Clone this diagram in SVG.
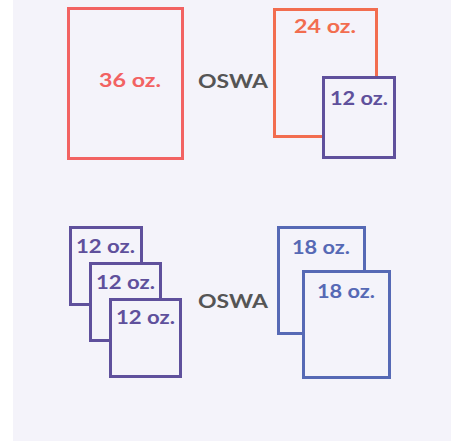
<svg xmlns="http://www.w3.org/2000/svg" width="456" height="441" viewBox="0 0 456 441">
<style>
.box{stroke-width:3;fill:#f4f3fa}
.t{font-family:"Lato","Open Sans",sans-serif;font-weight:bold;font-size:18px}
.red{stroke:#f26262}.redt{fill:#f26262}
.org{stroke:#f26d4f}.orgt{fill:#f26d4f}
.pur{stroke:#5f509c}.purt{fill:#5f509c}
.blu{stroke:#5669b5}.blut{fill:#5669b5}
.gry{fill:#555555}
</style>
<rect x="0" y="0" width="456" height="441" fill="#ffffff"/>
<rect x="13" y="0" width="438" height="441" fill="#f4f3fa"/>
<g id="n36">
<rect class="box red" x="68.5" y="8.5" width="114" height="150"/>
<text class="t redt" x="99" y="87" textLength="62" lengthAdjust="spacingAndGlyphs">36 oz.</text>
</g>
<g id="oswa1"><text class="t gry" x="198" y="88" textLength="70" lengthAdjust="spacingAndGlyphs">OSWA</text></g>
<g id="n24">
<rect class="box org" x="274.5" y="9.5" width="102" height="127"/>
<text class="t orgt" x="294" y="33" textLength="62" lengthAdjust="spacingAndGlyphs">24 oz.</text>
</g>
<g id="n12a">
<rect class="box pur" x="323.5" y="77.5" width="71" height="80"/>
<text class="t purt" x="330" y="105" textLength="58" lengthAdjust="spacingAndGlyphs">12 oz.</text>
</g>
<g id="n12b">
<rect class="box pur" x="70.5" y="227.5" width="71" height="77"/>
<text class="t purt" x="76" y="253" textLength="59" lengthAdjust="spacingAndGlyphs">12 oz.</text>
</g>
<g id="n12c">
<rect class="box pur" x="90.5" y="263.5" width="70" height="77"/>
<text class="t purt" x="96" y="289" textLength="59" lengthAdjust="spacingAndGlyphs">12 oz.</text>
</g>
<g id="n12d">
<rect class="box pur" x="110.5" y="299.5" width="70" height="77"/>
<text class="t purt" x="116" y="324" textLength="59" lengthAdjust="spacingAndGlyphs">12 oz.</text>
</g>
<g id="oswa2"><text class="t gry" x="198" y="308" textLength="70" lengthAdjust="spacingAndGlyphs">OSWA</text></g>
<g id="n18a">
<rect class="box blu" x="278.5" y="227.5" width="86" height="106"/>
<text class="t blut" x="292" y="254" textLength="58" lengthAdjust="spacingAndGlyphs">18 oz.</text>
</g>
<g id="n18b">
<rect class="box blu" x="303.5" y="271.5" width="86" height="106"/>
<text class="t blut" x="317" y="298" textLength="58" lengthAdjust="spacingAndGlyphs">18 oz.</text>
</g>
</svg>
